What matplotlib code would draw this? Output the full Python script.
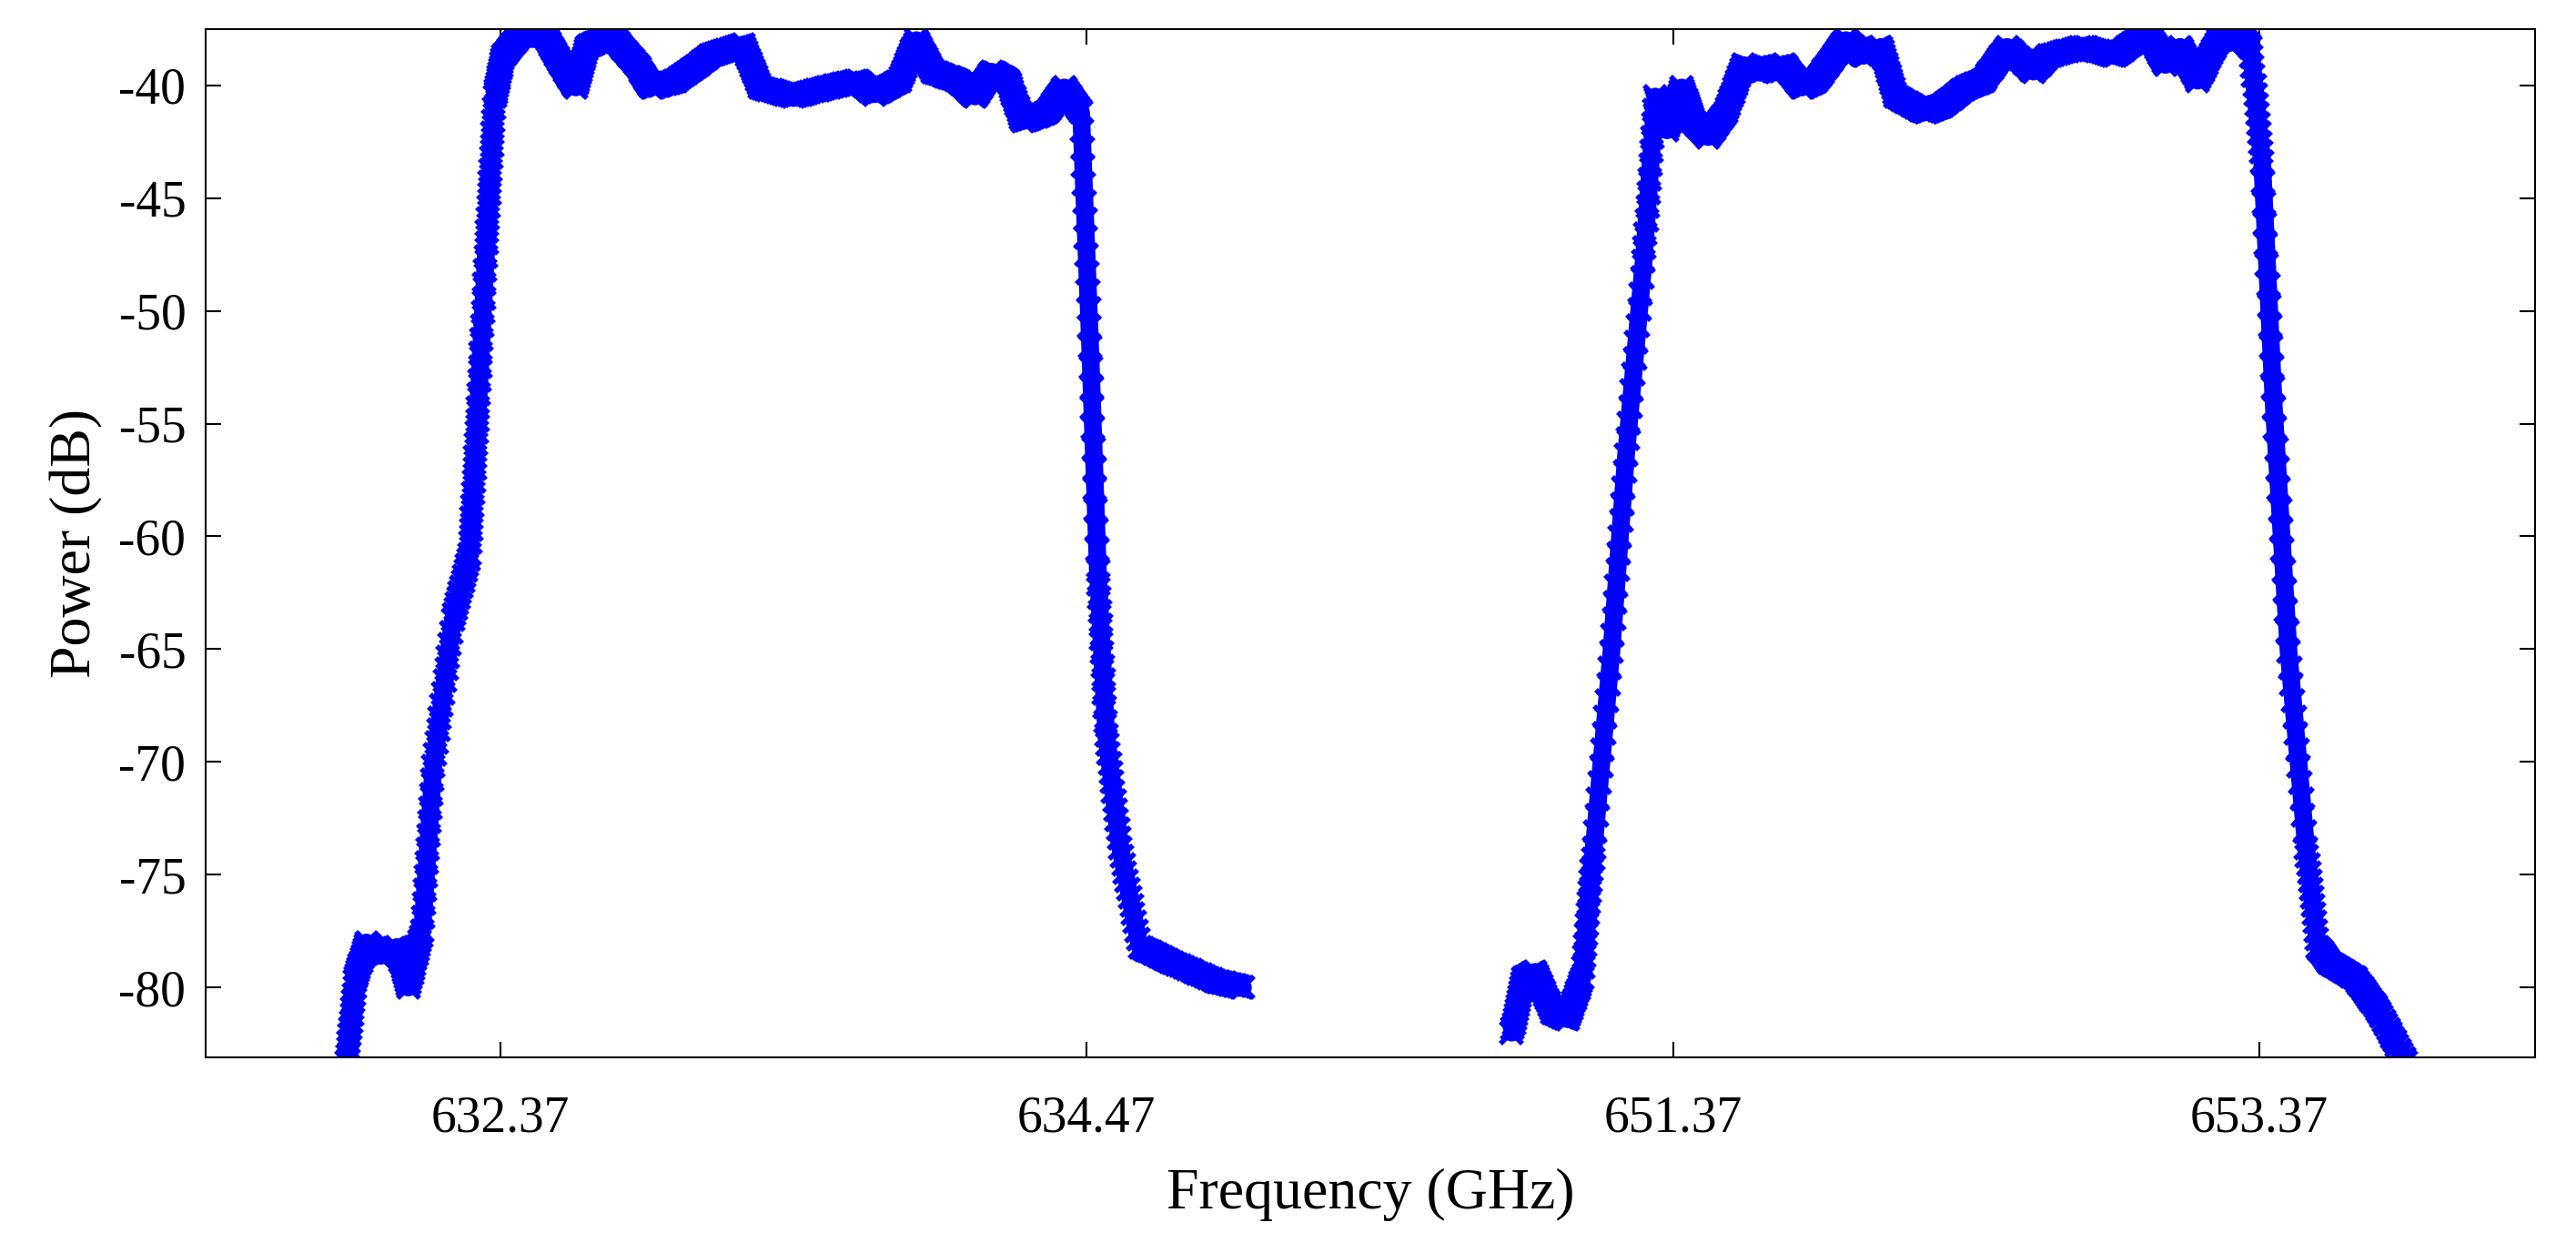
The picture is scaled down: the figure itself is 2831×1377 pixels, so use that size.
import numpy as np
import matplotlib
matplotlib.use("Agg")
import matplotlib.pyplot as plt

plt.rcParams['font.family'] = ['Liberation Serif', 'DejaVu Serif']
plt.rcParams['axes.unicode_minus'] = False

# band 1 (GHz, dB)
f1 = [631.82, 631.85, 631.89, 631.94, 632.00, 632.04, 632.09, 632.13, 632.20, 632.26,
      632.29, 632.32, 632.35, 632.38, 632.44, 632.53, 632.59, 632.64, 632.68, 632.77,
      632.86, 632.91, 633.00, 633.12, 633.24, 633.30, 633.42, 633.54, 633.65, 633.71,
      633.80, 633.86, 633.92, 634.01, 634.07, 634.13, 634.19, 634.24, 634.33, 634.39,
      634.45, 634.48, 634.51, 634.54, 634.59, 634.66, 634.78, 634.93, 635.03]
p1 = [-83.3, -79.7, -78.0, -78.6, -78.2, -80.0, -77.5, -70.2, -63.7, -60.8,
      -54.3, -47.0, -40.5, -38.7, -37.8, -37.8, -39.1, -40.1, -38.3, -37.8,
      -39.1, -40.1, -39.8, -38.7, -38.2, -40.1, -40.5, -40.1, -39.8, -40.4,
      -39.8, -38.0, -39.4, -39.8, -40.5, -39.4, -39.8, -41.6, -41.2, -40.1,
      -41.2, -50.7, -61.5, -68.8, -73.8, -78.2, -78.9, -79.7, -80.0]

# band 2 (GHz, dB)
f2 = [650.82, 650.86, 650.90, 650.96, 651.01, 651.06, 651.10, 651.16, 651.21, 651.27,
      651.31, 651.35, 651.40, 651.44, 651.49, 651.55, 651.61, 651.66, 651.75, 651.81,
      651.86, 651.92, 651.96, 652.02, 652.08, 652.13, 652.23, 652.29, 652.37, 652.43,
      652.51, 652.60, 652.65, 652.77, 652.88, 652.99, 653.05, 653.10, 653.16, 653.23,
      653.30, 653.34, 653.38, 653.42, 653.47, 653.53, 653.57, 653.61, 653.70, 653.78,
      653.87]
p2 = [-82.0, -79.6, -79.3, -81.1, -81.4, -79.6, -73.8, -65.1, -56.4, -47.8,
      -40.5, -42.0, -40.1, -41.6, -42.3, -41.2, -39.1, -39.4, -39.1, -40.1,
      -39.8, -38.7, -38.0, -38.7, -38.3, -40.5, -41.2, -40.9, -40.1, -39.8,
      -38.3, -39.4, -38.7, -38.3, -38.7, -37.6, -39.1, -38.3, -39.8, -38.0,
      -37.8, -38.3, -43.4, -54.3, -65.1, -73.8, -78.2, -78.9, -79.6, -81.1,
      -83.3]

tick_labels = ['632.37', '634.47', '651.37', '653.37']

# broken axis: map each band onto its own evenly spaced slot
def pos1(f):
    return 1 + (np.asarray(f) - 632.37) / 2.1

def pos2(f):
    return 3 + (np.asarray(f) - 651.37) / 2.0

def densify(x, y, n=12):
    t = np.linspace(0, len(x) - 1, (len(x) - 1) * n + 1)
    i = np.arange(len(x))
    return np.interp(t, i, x), np.interp(t, i, y)

fig = plt.figure(figsize=(28.31, 13.77), dpi=100)
ax = fig.add_axes([0.080, 0.156, 0.904, 0.821])

for x, y in [(pos1(f1), p1), (pos2(f2), p2)]:
    xd, yd = densify(x, y)
    ax.plot(xd, yd, color='#0000ff', lw=14, solid_capstyle='round')
    ax.plot(xd, yd, 'x', color='#0000ff', ms=17, mew=4)

ax.set_xlim(0.498, 4.47)
ax.set_ylim(-83.1, -37.5)
ax.set_xticks([1, 2, 3, 4])
ax.set_xticklabels(tick_labels)
ax.set_yticks(np.arange(-80, -39, 5))
ax.tick_params(direction='in', labelsize=40, length=12, width=1.5, top=True, right=True,
               labeltop=False, labelright=False)
ax.tick_params(axis='x', pad=30)
ax.tick_params(axis='y', pad=16)
for s in ax.spines.values():
    s.set_linewidth(1.5)
ax.set_xlabel('Frequency (GHz)', fontsize=46, labelpad=20)
ax.set_ylabel('Power (dB)', fontsize=46, labelpad=12)

fig.savefig('out.png', dpi=100)
